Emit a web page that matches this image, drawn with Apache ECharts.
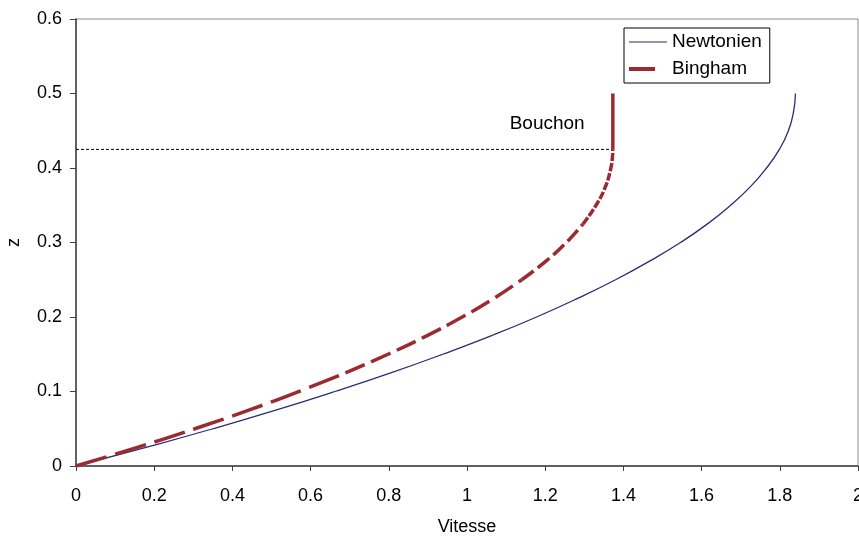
<!DOCTYPE html>
<html>
<head>
<meta charset="utf-8">
<script src="https://cdn.jsdelivr.net/npm/echarts@6/dist/echarts.min.js"></script>
<style>
  html, body { margin: 0; padding: 0; background: #fff; }
  #chart { width: 859px; height: 536px; }
</style>
</head>
<body>
<div id="chart"></div>
<script>
// Velocity profiles in a falling film: Newtonian fluid vs Bingham fluid
const zNewton = [0, 0.025, 0.05, 0.075, 0.1, 0.125, 0.15, 0.175, 0.2, 0.225, 0.25,
                 0.275, 0.3, 0.325, 0.35, 0.375, 0.4, 0.425, 0.45, 0.475, 0.5];
const uNewton = [0, 0.179, 0.350, 0.511, 0.662, 0.805, 0.938, 1.063, 1.178, 1.283, 1.380,
                 1.467, 1.546, 1.615, 1.674, 1.725, 1.766, 1.799, 1.822, 1.835, 1.840];

// Sheared zone of the Bingham fluid (below the plug)
const zBingham = [0, 0.025, 0.05, 0.075, 0.1, 0.125, 0.15, 0.175, 0.2, 0.225, 0.25,
                  0.275, 0.3, 0.325, 0.35, 0.375, 0.4, 0.415, 0.425];
const uBingham = [0, 0.157, 0.304, 0.442, 0.570, 0.689, 0.798, 0.898, 0.988, 1.069, 1.140,
                  1.202, 1.254, 1.297, 1.330, 1.354, 1.368, 1.372, 1.373];

// Plug zone: constant velocity from the yield height up to the free surface
const zPlug = [0.425, 0.5];
const uPlug = [1.373, 1.373];

// Yield height marker and its label
const zYield = 0.425;
const plugLabel = 'Bouchon';
const plugLabelPos = [1.205, 0.46];

const pairs = (u, z) => u.map((v, i) => [v, z[i]]);
const binghamPts = pairs(uBingham, zBingham);

const BINGHAM = '#9b2a33';
const NEWTON = '#2b2b78';
const FONT = 'Liberation Sans, Arial, sans-serif';

// The dashed Bingham curve is drawn in pieces so the dash rhythm tightens towards the plug
const dashPieces = [
  { from: 0, to: 5, dash: [32, 9] },
  { from: 5, to: 10, dash: [21, 7] },
  { from: 10, to: 13, dash: [15, 5] },
  { from: 13, to: 18, dash: [8, 2] }
];

const binghamSeries = dashPieces.map((p, i) => ({
  name: i === 0 ? 'Bingham' : 'Bingham-' + i,
  type: 'line',
  data: binghamPts.slice(p.from, p.to + 1),
  showSymbol: false, symbol: 'none',
  smooth: true,
  lineStyle: { color: BINGHAM, width: 3.5, type: p.dash },
  itemStyle: { color: BINGHAM },
  z: 3
}));

const chart = echarts.init(document.getElementById('chart'), null, { renderer: 'canvas' });
chart.setOption({
  animation: false,
  backgroundColor: '#fff',
  textStyle: { fontFamily: FONT },
  grid: {
    left: 76, right: 1, top: 19, bottom: 70,
    outerBoundsMode: 'none',
    containLabel: false,
    show: true, borderColor: '#8a8a8a', borderWidth: 1, backgroundColor: 'transparent'
  },
  legend: {
    orient: 'vertical',
    left: 624, top: 28,
    padding: [4, 8, 4, 5],
    itemGap: 7,
    itemWidth: 38,
    itemHeight: 20,
    backgroundColor: '#fff',
    borderColor: '#000',
    borderWidth: 1,
    borderRadius: 0,
    itemStyle: { borderWidth: 0 },
    textStyle: { fontSize: 19, color: '#000', fontFamily: FONT },
    data: [
      { name: 'Newtonien', icon: 'path://M0,0 M0,9.4 H38 V10.6 H0 Z M38,20' },
      { name: 'Bingham', icon: 'path://M0,0 M0,8 H26 V12 H0 Z M38,20' }
    ]
  },
  xAxis: {
    type: 'value',
    min: 0, max: 2, interval: 0.2,
    name: 'Vitesse',
    nameLocation: 'middle',
    nameGap: 52,
    nameTextStyle: { fontSize: 18, color: '#000' },
    axisLine: { show: true, onZero: false, lineStyle: { color: '#404040', width: 1.5 } },
    axisTick: { show: true, length: 5, lineStyle: { color: '#404040' } },
    axisLabel: { fontSize: 18, color: '#000', margin: 21 },
    splitLine: { show: false }
  },
  yAxis: {
    type: 'value',
    min: 0, max: 0.6, interval: 0.1,
    name: 'z',
    nameLocation: 'middle',
    nameGap: 53,
    nameRotate: 90,
    nameTextStyle: { fontSize: 18, color: '#000' },
    axisLine: { show: true, onZero: false, lineStyle: { color: '#404040', width: 1.5 } },
    axisTick: { show: true, length: 6, lineStyle: { color: '#404040' } },
    axisLabel: { fontSize: 18, color: '#000', margin: 14 },
    splitLine: { show: false }
  },
  series: [
    {
      name: 'Newtonien',
      type: 'line',
      data: pairs(uNewton, zNewton),
      showSymbol: false, symbol: 'none',
      smooth: true,
      lineStyle: { color: NEWTON, width: 1.3 },
      itemStyle: { color: NEWTON },
      z: 2
    },
    {
      name: 'yield',
      type: 'line',
      data: [[0, zYield], [uPlug[0], zYield]],
      showSymbol: false, symbol: 'none',
      lineStyle: { color: '#000', width: 1, type: [3, 2] },
      silent: true,
      z: 1
    },
    ...binghamSeries,
    {
      name: 'Bingham-plug',
      type: 'line',
      data: pairs(uPlug, zPlug),
      showSymbol: false, symbol: 'none',
      lineStyle: { color: BINGHAM, width: 3.5 },
      itemStyle: { color: BINGHAM },
      z: 3
    },
    {
      name: 'label',
      type: 'scatter',
      data: [plugLabelPos],
      symbolSize: 0,
      silent: true,
      itemStyle: { opacity: 1 },
      label: {
        show: true,
        position: 'inside',
        formatter: plugLabel,
        fontSize: 19,
        color: '#000',
        opacity: 1,
        textBorderWidth: 0,
        fontFamily: FONT
      }
    }
  ]
});
</script>
</body>
</html>
